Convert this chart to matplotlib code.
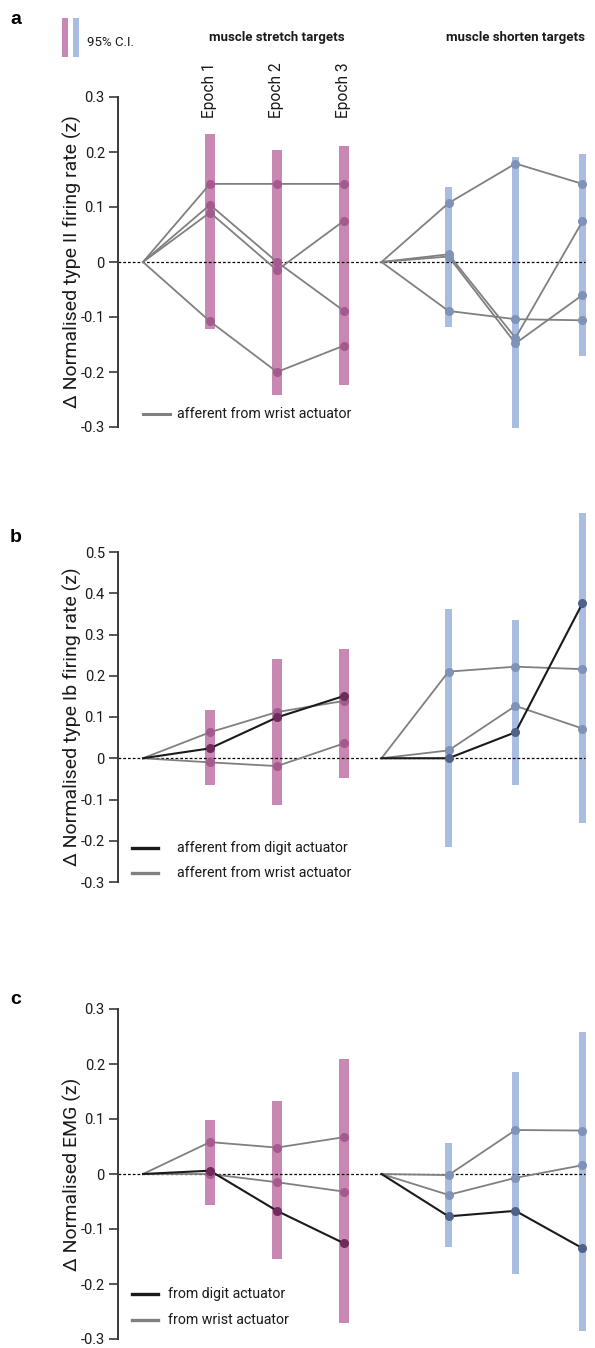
import matplotlib
matplotlib.use("Agg")
import matplotlib.pyplot as plt
from matplotlib.patches import Rectangle
from matplotlib.lines import Line2D
import numpy as np

plt.rcParams['font.family'] = ['Roboto', 'Liberation Sans', 'DejaVu Sans']

# ---------------- data ----------------
epochs = ["Epoch 1", "Epoch 2", "Epoch 3"]
group_titles = ["muscle stretch targets", "muscle shorten targets"]

# panel a : type II afferents (wrist actuator)
a_stretch_wrist = [[0.142, 0.142, 0.142],
                   [0.104, 0.000, -0.089],
                   [0.090, -0.015, 0.075],
                   [-0.108, -0.200, -0.152]]
a_stretch_ci_lo = [-0.122, -0.241, -0.224]
a_stretch_ci_hi = [0.232, 0.204, 0.211]
a_shorten_wrist = [[0.107, 0.179, 0.142],
                   [0.014, -0.138, 0.074],
                   [0.010, -0.148, -0.060],
                   [-0.089, -0.104, -0.106]]
a_shorten_ci_lo = [-0.118, -0.302, -0.171]
a_shorten_ci_hi = [0.136, 0.191, 0.196]

# panel b : type Ib afferents
b_stretch_digit = [0.024, 0.099, 0.151]
b_stretch_wrist = [[0.063, 0.112, 0.139],
                   [-0.010, -0.019, 0.036]]
b_stretch_ci_lo = [-0.066, -0.113, -0.049]
b_stretch_ci_hi = [0.116, 0.240, 0.265]
b_shorten_digit = [0.000, 0.063, 0.376]
b_shorten_wrist = [[0.210, 0.222, 0.216],
                   [0.019, 0.127, 0.072]]
b_shorten_ci_lo = [-0.214, -0.064, -0.156]
b_shorten_ci_hi = [0.362, 0.335, 0.594]

# panel c : EMG
c_stretch_digit = [0.006, -0.067, -0.126]
c_stretch_wrist = [[0.058, 0.048, 0.067],
                   [0.000, -0.015, -0.032]]
c_stretch_ci_lo = [-0.056, -0.154, -0.270]
c_stretch_ci_hi = [0.098, 0.133, 0.209]
c_shorten_digit = [-0.077, -0.067, -0.135]
c_shorten_wrist = [[-0.002, 0.080, 0.079],
                   [-0.038, -0.007, 0.016]]
c_shorten_ci_lo = [-0.132, -0.182, -0.285]
c_shorten_ci_hi = [0.056, 0.186, 0.259]

# ---------------- style ----------------
W, H = 595, 1348
MAG = '#c987b4'
BLU = '#a9bde3'
MAG_DOT_G = '#a5598e'
MAG_DOT_K = '#6e2b5b'
BLU_DOT_G = '#7f92b8'
BLU_DOT_K = '#4f6289'
GRAY = '#808080'
BLACK = '#1a1a1a'
SPINE = '#3a3a3a'
TXT = '#1a1a1a'

STRETCH_X0 = 0.0
SHORTEN_X0 = 3.56

fig = plt.figure(figsize=(W / 100, H / 100), dpi=100)


def fx(px):
    return px / W


def fy(py):
    return 1 - py / H


def make_axes(top_px, bot_px, ylo, yhi, ticks, ylabel):
    ax = fig.add_axes([fx(118), fy(bot_px), (590 - 118) / W, (bot_px - top_px) / H])
    ax.set_xlim(-0.373, 6.672)
    ax.set_ylim(ylo, yhi)
    for s in ['top', 'right', 'bottom']:
        ax.spines[s].set_visible(False)
    ax.spines['left'].set_color(SPINE)
    ax.spines['left'].set_linewidth(1.4)
    ax.set_xticks([])
    ax.set_yticks(ticks)
    ax.set_yticklabels([('0' if abs(t) < 1e-9 else f'{t:.1f}') for t in ticks])
    ax.tick_params(axis='y', direction='out', length=6.5, width=1.2, color=SPINE,
                   labelsize=10.5, labelcolor=TXT, pad=3)
    ax.set_ylabel(ylabel, fontsize=14, color=TXT)
    ax.yaxis.set_label_coords(-0.076, 0.5)
    ax.hlines(0, ax.get_xlim()[0], 6.6, colors='black', linewidth=0.9,
              linestyles=(0, (2.2, 1.6)), zorder=2)
    return ax


def draw_group(ax, x0, lo, hi, wrist, digit, bar_col, bar_w, dot_g, dot_k):
    xs = x0 + np.arange(1, 4)
    lo = np.array(lo)
    hi = np.array(hi)
    ax.bar(xs, hi - lo, bottom=lo, width=bar_w, color=bar_col, zorder=1,
           clip_on=False, linewidth=0)
    allx = np.concatenate([[x0], xs])
    for s in wrist:
        ys = np.concatenate([[0.0], s])
        ax.plot(allx, ys, color=GRAY, lw=1.3, zorder=3, clip_on=False)
    if digit is not None:
        ys = np.concatenate([[0.0], digit])
        ax.plot(allx, ys, color=BLACK, lw=1.5, zorder=4, clip_on=False)
    for s in wrist:
        ax.plot(xs, s, 'o', ms=6.5, color=dot_g, mec='none', zorder=5, clip_on=False)
    if digit is not None:
        ax.plot(xs, digit, 'o', ms=6.5, color=dot_k, mec='none', zorder=6, clip_on=False)


def legend_line(y_px, x1, x2, xt, color, text, lw):
    fig.add_artist(Line2D([fx(x1), fx(x2)], [fy(y_px), fy(y_px)], color=color, lw=lw))
    fig.text(fx(xt), fy(y_px), text, ha='left', va='center', fontsize=10.2, color=TXT)


# ---------- panel a ----------
axa = make_axes(97, 427, -0.3, 0.3, [0.3, 0.2, 0.1, 0, -0.1, -0.2, -0.3],
                'Δ Normalised type II firing rate (z)')
draw_group(axa, STRETCH_X0, a_stretch_ci_lo, a_stretch_ci_hi, a_stretch_wrist, None,
           MAG, 0.15, MAG_DOT_G, MAG_DOT_K)
draw_group(axa, SHORTEN_X0, a_shorten_ci_lo, a_shorten_ci_hi, a_shorten_wrist, None,
           BLU, 0.11, BLU_DOT_G, BLU_DOT_K)
for i, e in enumerate(epochs):
    axa.text(STRETCH_X0 + i + 1, 0.262, e, rotation=90, ha='center', va='bottom',
             fontsize=11.2, color=TXT)
axa.text(STRETCH_X0 + 2, 0.409, group_titles[0], ha='center', va='center',
         fontsize=9.5, fontweight='bold', color=TXT)
axa.text(SHORTEN_X0 + 2, 0.409, group_titles[1], ha='center', va='center',
         fontsize=9.5, fontweight='bold', color=TXT)
legend_line(414, 143, 170, 177, GRAY, 'afferent from wrist actuator', 2.2)

# CI legend
fig.add_artist(Rectangle((fx(62), fy(57)), 6 / W, 39 / H, color=MAG, lw=0))
fig.add_artist(Rectangle((fx(73), fy(57)), 6 / W, 39 / H, color=BLU, lw=0))
fig.text(fx(87), fy(42), '95% C.I.', ha='left', va='center', fontsize=9.5, color=TXT)

# ---------- panel b ----------
axb = make_axes(552, 882, -0.3, 0.5, [0.5, 0.4, 0.3, 0.2, 0.1, 0, -0.1, -0.2, -0.3],
                'Δ Normalised type Ib firing rate (z)')
draw_group(axb, STRETCH_X0, b_stretch_ci_lo, b_stretch_ci_hi, b_stretch_wrist, b_stretch_digit,
           MAG, 0.15, MAG_DOT_G, MAG_DOT_K)
draw_group(axb, SHORTEN_X0, b_shorten_ci_lo, b_shorten_ci_hi, b_shorten_wrist, b_shorten_digit,
           BLU, 0.11, BLU_DOT_G, BLU_DOT_K)
legend_line(848, 132, 158, 177, BLACK, 'afferent from digit actuator', 2.4)
legend_line(873, 132, 158, 177, GRAY, 'afferent from wrist actuator', 2.4)

# ---------- panel c ----------
axc = make_axes(1009, 1339, -0.3, 0.3, [0.3, 0.2, 0.1, 0, -0.1, -0.2, -0.3],
                'Δ Normalised EMG (z)')
draw_group(axc, STRETCH_X0, c_stretch_ci_lo, c_stretch_ci_hi, c_stretch_wrist, c_stretch_digit,
           MAG, 0.15, MAG_DOT_G, MAG_DOT_K)
draw_group(axc, SHORTEN_X0, c_shorten_ci_lo, c_shorten_ci_hi, c_shorten_wrist, c_shorten_digit,
           BLU, 0.11, BLU_DOT_G, BLU_DOT_K)
legend_line(1294, 132, 158, 168, BLACK, 'from digit actuator', 2.4)
legend_line(1320, 132, 158, 168, GRAY, 'from wrist actuator', 2.4)

# panel letters
for letter, py in [('a', 20), ('b', 537), ('c', 1000)]:
    fig.text(fx(10), fy(py), letter, ha='left', va='center', fontsize=14,
             fontweight='bold', family=['Liberation Sans', 'DejaVu Sans'])

fig.savefig('out.png', dpi=100)
